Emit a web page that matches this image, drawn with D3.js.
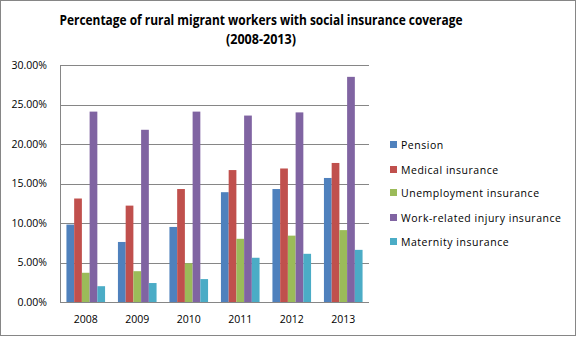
<!DOCTYPE html>
<html><head><meta charset="utf-8">
<script src="https://cdn.jsdelivr.net/npm/d3@7"></script>
<style>body{margin:0;background:#fff}svg{display:block}</style>
</head><body>
<script>
const years = ["2008","2009","2010","2011","2012","2013"];
const seriesNames = ["Pension","Medical insurance","Unemployment insurance","Work-related injury insurance","Maternity insurance"];
const pension = [9.8, 7.6, 9.5, 13.9, 14.3, 15.7];
const medical = [13.1, 12.2, 14.3, 16.7, 16.9, 17.6];
const unemployment = [3.7, 3.9, 4.9, 8.0, 8.4, 9.1];
const workInjury = [24.1, 21.8, 24.1, 23.6, 24.0, 28.5];
const maternity = [2.0, 2.4, 2.9, 5.6, 6.1, 6.6];
const yTicks = [0, 5, 10, 15, 20, 25, 30];
const colors = ["#4F81BD","#C0504D","#9BBB59","#8064A2","#4BACC6"];
const seriesValues = [pension, medical, unemployment, workInjury, maternity];

const W = 577, H = 337;
const svg = d3.select("body").append("svg").attr("width", W).attr("height", H);
svg.append("rect").attr("x",0.5).attr("y",0.5).attr("width",575).attr("height",335)
  .attr("fill","#fff").attr("stroke","#868686").attr("stroke-width",1);

const font = "'Open Sans', 'Liberation Sans', sans-serif";

const x0 = d3.scaleBand().domain(years).range([60,369]).paddingInner(0.25).paddingOuter(0.125);
const x1 = d3.scaleBand().domain(d3.range(5)).range([0, x0.bandwidth()]);
const y = d3.scaleLinear().domain([0,30]).range([302,65]);

// gridlines
svg.append("g").selectAll("line").data(yTicks.filter(d=>d>0)).join("line")
  .attr("x1",60).attr("x2",369).attr("y1",d=>Math.round(y(d))+0.5).attr("y2",d=>Math.round(y(d))+0.5)
  .attr("stroke","#868686").attr("stroke-width",1);

// bars
const g = svg.append("g");
seriesValues.forEach((vals, si) => {
  g.append("g").selectAll("rect").data(vals.map((v,i)=>({year:years[i], v}))).join("rect")
    .attr("x", d => x0(d.year) + x1(si))
    .attr("width", x1.bandwidth())
    .attr("y", d => y(d.v))
    .attr("height", d => y(0) - y(d.v))
    .attr("fill", colors[si]);
});

// axes lines
svg.append("line").attr("x1",60.5).attr("x2",60.5).attr("y1",y(30)).attr("y2",Math.round(y(0))+0.5).attr("stroke","#868686");
svg.append("line").attr("x1",60).attr("x2",369).attr("y1",Math.round(y(0))+0.5).attr("y2",Math.round(y(0))+0.5).attr("stroke","#868686");

// y labels
svg.append("g").selectAll("text").data(yTicks).join("text")
  .attr("x",47).attr("y",d=>y(d)).attr("dy","0.35em").attr("text-anchor","end")
  .attr("font-family",font).attr("font-size",10.5).attr("fill","#000")
  .text(d=>d.toFixed(2)+"%");

// x labels
svg.append("g").selectAll("text").data(years).join("text")
  .attr("x",d=>x0(d)+x0.bandwidth()/2).attr("y",323).attr("text-anchor","middle")
  .attr("font-family",font).attr("font-size",10.5).attr("fill","#000")
  .text(d=>d);

// title
svg.append("text").attr("x",261).attr("y",25).attr("text-anchor","middle")
  .attr("font-family",font).attr("font-weight","bold").attr("font-size",14).attr("fill","#000")
  .attr("textLength",403).attr("lengthAdjust","spacingAndGlyphs")
  .text("Percentage of rural migrant workers with social insurance coverage");
svg.append("text").attr("x",261).attr("y",44).attr("text-anchor","middle")
  .attr("font-family",font).attr("font-weight","bold").attr("font-size",14).attr("fill","#000")
  .attr("textLength",70).attr("lengthAdjust","spacingAndGlyphs")
  .text("(2008-2013)");

// legend
const legendY = [145,170,193,218,242];
const lg = svg.append("g");
const texts = [];
seriesNames.forEach((name,i)=>{
  lg.append("rect").attr("x",390).attr("y",legendY[i]-4).attr("width",7).attr("height",7).attr("fill",colors[i]);
  texts.push(lg.append("text").attr("x",401).attr("y",legendY[i]).attr("dy","0.35em")
    .attr("font-family",font).attr("font-size",10.5).attr("fill","#000").text(name));
});
const wRef = texts[3].node().getComputedTextLength();
const ls = (160 - wRef) / (seriesNames[3].length - 1);
texts.forEach(t => t.attr("letter-spacing", ls.toFixed(2)));
</script>
</body></html>
